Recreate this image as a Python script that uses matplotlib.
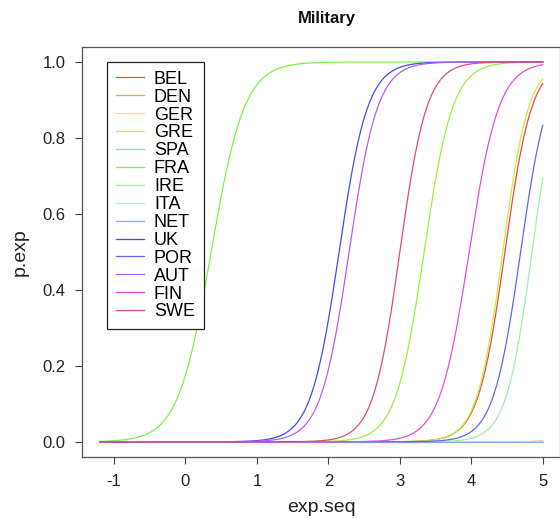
import numpy as np
import matplotlib
matplotlib.use("Agg")
import matplotlib.pyplot as plt
from matplotlib.lines import Line2D

plt.rcParams['font.family'] = ['Liberation Sans', 'DejaVu Sans']

# ---- data ----
countries = ["BEL", "DEN", "GER", "GRE", "SPA", "FRA", "IRE", "ITA",
             "NET", "UK", "POR", "AUT", "FIN", "SWE"]
colors = ["#e34a4a", "#f0a070", "#f0e070", "#c8f030", "#98f040", "#80f048",
          "#a0f0a0", "#a0f0f0", "#90a4f8", "#4848f0", "#6464f0", "#b060f0",
          "#e050d0", "#e04878"]
# logistic curve parameters: p = 1 / (1 + exp(-slope * (x - midpoint)))
midpoint = [4.47, 6.0, 7.5, 4.44, 3.34, 0.36, 4.85, 7.5,
            9.0, 2.15, 4.69, 2.29, 3.97, 3.00]
slope = [5.3, 6.0, 5.0, 5.5, 5.0, 4.3, 5.5, 5.0,
         5.0, 5.0, 5.2, 5.0, 4.8, 5.3]
x_min, x_max = -1.2, 5.0
x_ticks = [-1, 0, 1, 2, 3, 4, 5]
y_ticks = [0.0, 0.2, 0.4, 0.6, 0.8, 1.0]

exp_seq = np.linspace(x_min, x_max, 300)

W, H = 560, 518
fig = plt.figure(figsize=(W / 100, H / 100), dpi=100)
ax = fig.add_axes([82 / W, 61 / H, (560.5 - 82) / W, (471.2 - 61) / H])

for name, c, m, s in zip(countries, colors, midpoint, slope):
    p_exp = 1.0 / (1.0 + np.exp(-s * (exp_seq - m)))
    ax.plot(exp_seq, p_exp, color=c, lw=0.9, label=name)

span = x_max - x_min
ax.set_xlim(x_min - 0.04 * span, x_max + 0.04 * span)
ax.set_ylim(-0.04, 1.04)
ax.set_xticks(x_ticks)
ax.set_xticklabels([str(t) for t in x_ticks])
ax.set_yticks(y_ticks)
ax.set_yticklabels([f"{t:.1f}" for t in y_ticks])

ax.tick_params(direction='out', length=5, width=0.8, color='#404040',
               labelsize=12, labelcolor='#222222', pad=7)
for sp in ax.spines.values():
    sp.set_color('#555555')
    sp.set_linewidth(0.9)

ax.set_xlabel("exp.seq", fontsize=14, color='#222222', labelpad=7.5)
ax.set_ylabel("p.exp", fontsize=14, color='#222222', labelpad=10)
fig.text(327 / W, 1 - 18 / H, "Military", fontsize=12, fontweight='bold',
         ha='center', va='center', color='#111111')

handles = [Line2D([0], [0], color=c, lw=0.9) for c in colors]
leg = ax.legend(handles, countries, loc='upper left',
                bbox_to_anchor=((107 - 82) / 478.5, 0.9637), borderaxespad=0,
                fontsize=13, frameon=True, fancybox=False, framealpha=1,
                edgecolor='#222222', handlelength=1.55, handletextpad=0.55,
                borderpad=0.5, labelspacing=0.05)
leg.get_frame().set_linewidth(0.9)

fig.savefig("out.png", dpi=100)
